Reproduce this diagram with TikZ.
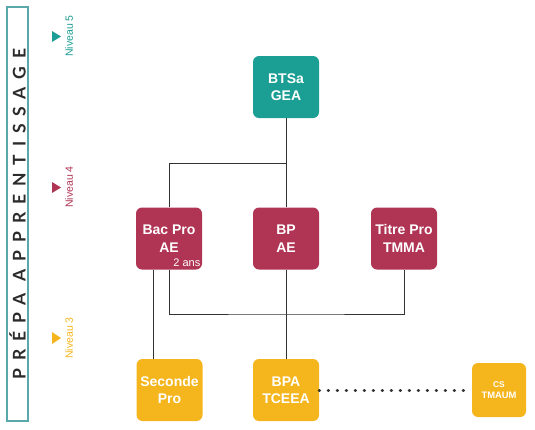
\documentclass[tikz,border=0pt]{standalone}
\usepackage{fontspec}
\setmainfont{Liberation Sans}
\newfontfamily\titlefont[LetterSpace=45]{Lato}
\definecolor{tealc}{HTML}{1B9E94}
\definecolor{crimc}{HTML}{B03555}
\definecolor{yelc}{HTML}{F5B51C}
\definecolor{framec}{HTML}{5AA8AA}
\definecolor{linec}{HTML}{333333}
\definecolor{titlec}{HTML}{2B2B2B}
\begin{document}
\begin{tikzpicture}[x=1pt,y=-1pt,
  box/.style={rounded corners=6pt, minimum width=66pt, minimum height=62pt, inner sep=0pt,
    text=white, align=center, font=\bfseries\fontsize{14}{17.5}\selectfont},
  conn/.style={draw=linec, line width=1pt},
  dotconn/.style={draw=linec, line width=3pt, line cap=round, dash pattern=on 0.4pt off 8.6pt},
  niv/.style={rotate=90, inner sep=0pt, font=\fontsize{10.5}{12}\selectfont}]
\useasboundingbox (0,0) rectangle (535,429);
% frame with title
\node[draw=framec, line width=1.3pt, rotate=90, minimum width=414pt, minimum height=21pt, inner sep=0pt,
  text=titlec, font=\titlefont\bfseries\fontsize{17.5}{20}\selectfont] (title) at (17.5,214) {PRÉPA APPRENTISSAGE};
% level markers
\fill[tealc] (52,31) -- (61,36.5) -- (52,42) -- cycle;
\node[niv, text=tealc] (n5) at (69,36) {Niveau 5};
\fill[crimc] (52,182) -- (61,187.5) -- (52,193) -- cycle;
\node[niv, text=crimc] (n4) at (69,187) {Niveau 4};
\fill[yelc] (52,332) -- (61,338) -- (52,344) -- cycle;
\node[niv, text=yelc] (n3) at (69,338) {Niveau 3};
% boxes
\node[box, fill=tealc] (btsa) at (286,87) {BTSa\\GEA};
\node[box, fill=crimc] (bacpro) at (169,238.5) {Bac Pro\\AE};
\node[box, fill=crimc] (bp) at (286,238.5) {BP\\AE};
\node[box, fill=crimc] (titre) at (404,238.5) {Titre Pro\\TMMA};
\node[box, fill=yelc] (seconde) at (169.5,390) {Seconde\\Pro};
\node[box, fill=yelc] (bpa) at (286,390) {BPA\\TCEEA};
\node[box, fill=yelc, minimum width=54pt, minimum height=54pt, font=\bfseries\fontsize{9.4}{11.5}\selectfont] (cs) at (499,390) {{\fontsize{8.4}{10}\selectfont CS}\\TMAUM};
\node[anchor=base east, inner sep=0pt, text=white, font=\fontsize{11}{12}\selectfont] (ans) at (200.5,266) {2 ans};
% connectors
\coordinate (j1) at (286,163);
\coordinate (j2) at (286,314);
\draw[conn] (btsa.south) -- (bp.north);
\draw[conn] (bacpro.north) |- (j1);
\draw[conn] (bacpro.south) |- (j2) -| (titre.south);
\draw[conn] (bp.south) -- (bpa.north);
\draw[conn] ([xshift=-16pt]bacpro.south) -- ([xshift=-16.5pt]seconde.north);
\draw[dotconn] (bpa.east) -- (cs.west);
\end{tikzpicture}
\end{document}
